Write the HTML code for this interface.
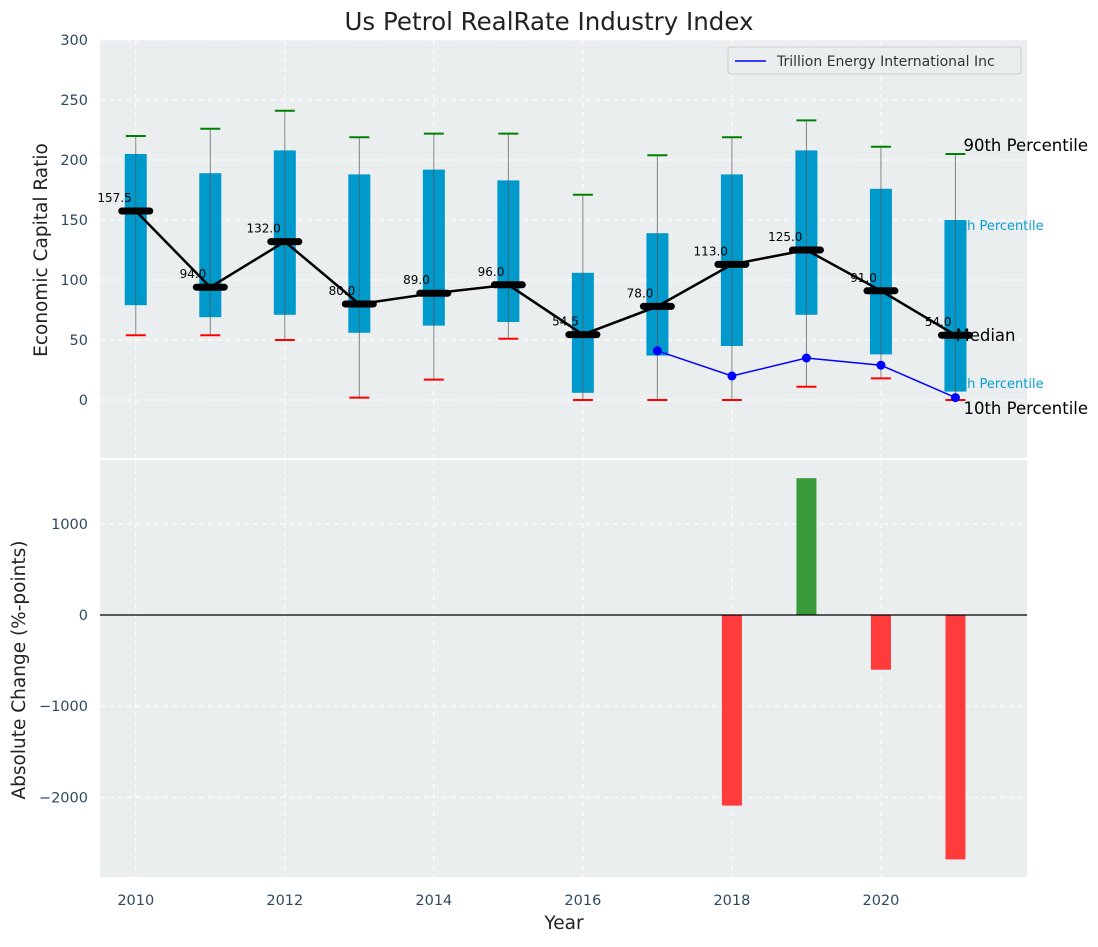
<!DOCTYPE html>
<html><head><meta charset="utf-8"><style>
body{margin:0;background:#fff;font-family:"Liberation Sans","DejaVu Sans",sans-serif}
svg text{font-family:"DejaVu Sans","Liberation Sans",sans-serif}
</style></head><body>
<svg id="c" width="1098" height="942" xmlns="http://www.w3.org/2000/svg"></svg>
<script>
const years=[2010,2011,2012,2013,2014,2015,2016,2017,2018,2019,2020,2021];
const p90=[220,226,241,219,222,222,171,204,219,233,211,205];
const q3=[205,189,208,188,192,183,106,139,188,208,176,150];
const median=[157.5,94,132,80,89,96,54.5,78,113,125,91,54];
const q1=[79,69,71,56,62,65,6,37,45,71,38,7];
const p10=[54,54,50,2,17,51,0,0,0,11,18,0];
const companyYears=[2017,2018,2019,2020,2021];
const companyValues=[41,20,35,29,2];
const changeYears=[2018,2019,2020,2021];
const changeValues=[-2090,1500,-600,-2680];
const topTicks=[0,50,100,150,200,250,300];
const botTicks=[-2000,-1000,0,1000];
const xTicks=[2010,2012,2014,2016,2018,2020];

const NS='http://www.w3.org/2000/svg';
const svg=document.getElementById('c');
function el(t,a,txt){const e=document.createElementNS(NS,t);for(const k in a)e.setAttribute(k,a[k]);if(txt!==undefined)e.textContent=txt;svg.appendChild(e);return e;}
const L=100,R=1027;
const X=v=>L+(v-2009.52)/(2021.96-2009.52)*(R-L);
const T0=40,T1=458,Y=v=>400-v*1.2;
const B0=460,B1=877,YB=v=>615-v*0.0912;

let e;
e=el('rect',{x:L,y:T0,width:R-L,height:T1-T0,fill:'#eaeeef'});

e=el('rect',{x:L,y:B0,width:R-L,height:B1-B0,fill:'#eaeeef'});


for(const t of topTicks){
 el('line',{x1:L,x2:R,y1:Y(t),y2:Y(t),stroke:'#fff','stroke-dasharray':'5,4','stroke-width':1});
 e=el('text',{x:L-12,y:Y(t)+5,'text-anchor':'end','font-size':14.5,fill:'#2e4a62'},t);
 
}
for(const t of botTicks){
 el('line',{x1:L,x2:R,y1:YB(t),y2:YB(t),stroke:'#fff','stroke-dasharray':'5,4','stroke-width':1});
 e=el('text',{x:L-12,y:YB(t)+5,'text-anchor':'end','font-size':14.5,fill:'#2e4a62'},t<0?'\u2212'+(-t):t);
 
}
for(const t of xTicks){
 el('line',{x1:X(t),x2:X(t),y1:T0,y2:T1,stroke:'#fff','stroke-dasharray':'5,4'});
 el('line',{x1:X(t),x2:X(t),y1:B0,y2:B1,stroke:'#fff','stroke-dasharray':'5,4'});
 e=el('text',{x:X(t),y:905,'text-anchor':'middle','font-size':14.5,fill:'#2e4a62'},t);
 
}
const lx=X(2021);
e=el('text',{x:lx+8,y:151,'font-size':16.5,fill:'#000'},'90th Percentile');

e=el('text',{x:lx-10,y:230,'font-size':13,fill:'#0a9fd0'},'75th Percentile');

e=el('text',{x:lx-10,y:388,'font-size':13,fill:'#0a9fd0'},'25th Percentile');


years.forEach((y,i)=>{
 const x=X(y);
 e=el('rect',{x:x-11,y:Y(q3[i]),width:22,height:Y(q1[i])-Y(q3[i]),fill:'#0099cc'});
 
 el('line',{x1:x,x2:x,y1:Y(p90[i]),y2:Y(p10[i]),stroke:'#555','stroke-opacity':0.7,'stroke-width':1});
 e=el('line',{x1:x-10,x2:x+10,y1:Y(p90[i]),y2:Y(p90[i]),stroke:'green','stroke-width':2});
 
 e=el('line',{x1:x-10,x2:x+10,y1:Y(p10[i]),y2:Y(p10[i]),stroke:'red','stroke-width':2});
 
});
e=el('polyline',{points:years.map((y,i)=>X(y)+','+Y(median[i])).join(' '),fill:'none',stroke:'#000','stroke-width':2.5});

years.forEach((y,i)=>{
 const x=X(y);
 e=el('line',{x1:x-14,x2:x+14,y1:Y(median[i]),y2:Y(median[i]),stroke:'#000','stroke-width':7,'stroke-linecap':'round'});
 
 e=el('text',{x:x-4,y:Y(median[i])-9,'text-anchor':'end','font-size':12,fill:'#000'},median[i].toFixed(1));
 
});
e=el('text',{x:lx,y:341,'font-size':16.5,fill:'#000'},'Median');

e=el('text',{x:lx+8,y:414,'font-size':16.5,fill:'#000'},'10th Percentile');


e=el('polyline',{points:companyYears.map((y,i)=>X(y)+','+Y(companyValues[i])).join(' '),fill:'none',stroke:'blue','stroke-width':1.5});

companyYears.forEach((y,i)=>{
 e=el('circle',{cx:X(y),cy:Y(companyValues[i]),r:4.5,fill:'blue'});
 
});

changeYears.forEach((y,i)=>{
 const v=changeValues[i];
 e=el('rect',{x:X(y)-10,y:Math.min(YB(0),YB(v)),width:20,height:Math.abs(YB(v)-YB(0)),fill:v>=0?'#3a9a3a':'#ff3b3b'});
 
});
el('line',{x1:L,x2:R,y1:YB(0),y2:YB(0),stroke:'#000','stroke-width':1.2});

e=el('rect',{x:728,y:47,width:293,height:27,fill:'#eaeeef',stroke:'#ccc',rx:3});

el('line',{x1:735,x2:766,y1:61,y2:61,stroke:'blue','stroke-width':1.5});
e=el('text',{x:777,y:66,'font-size':14,fill:'#333'},'Trillion Energy International Inc');


e=el('text',{x:549,y:30,'text-anchor':'middle','font-size':24.5,fill:'#222'},'Us Petrol RealRate Industry Index');

e=el('text',{x:564,y:929,'text-anchor':'middle','font-size':18.5,fill:'#222'},'Year');

e=el('text',{x:0,y:0,'text-anchor':'middle','font-size':18.5,fill:'#222',transform:'translate(47,250) rotate(-90)'},'Economic Capital Ratio');

e=el('text',{x:0,y:0,'text-anchor':'middle','font-size':18.5,fill:'#222',transform:'translate(25,670) rotate(-90)'},'Absolute Change (%-points)');

</script>
</body></html>
